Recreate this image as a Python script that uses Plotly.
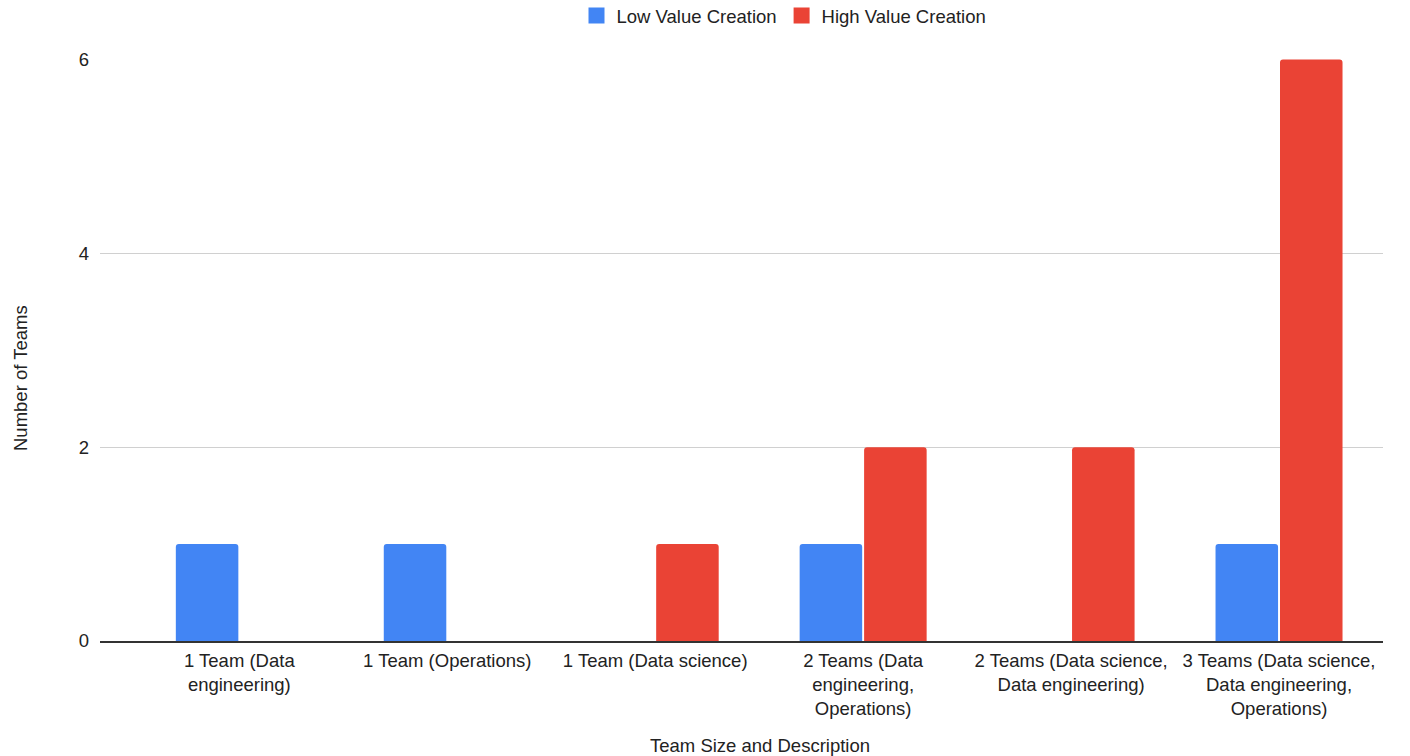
import plotly.graph_objects as go

# Team configurations (x categories) and counts per value-creation group
categories = [
    "1 Team (Data<br>engineering)",
    "1 Team (Operations)",
    "1 Team (Data science)",
    "2 Teams (Data<br>engineering,<br>Operations)",
    "2 Teams (Data science,<br>Data engineering)",
    "3 Teams (Data science,<br>Data engineering,<br>Operations)",
]
low_value = [1, 1, 0, 1, 0, 1]
high_value = [0, 0, 1, 2, 2, 6]
y_ticks = [0, 2, 4, 6]

BLUE = "#4285F4"
RED = "#EA4335"
TEXT = "#222222"
FONT = "Liberation Sans, Arial, sans-serif"
FS = 18.5

fig = go.Figure()
fig.add_trace(go.Bar(x=categories, y=low_value, name="Low Value Creation",
                     marker=dict(color=BLUE, line=dict(width=0)),
                     showlegend=False))
fig.add_trace(go.Bar(x=categories, y=high_value, name="High Value Creation",
                     marker=dict(color=RED, line=dict(width=0)),
                     showlegend=False))

# legend entries with large square swatches
for name, color in [("Low Value Creation", BLUE), ("High Value Creation", RED)]:
    fig.add_trace(go.Scatter(x=[None], y=[None], mode="markers", name=name,
                             marker=dict(symbol="square", size=18, color=color)))

fig.update_layout(
    width=1410, height=756,
    margin=dict(l=100, r=27, t=59, b=115, autoexpand=False),
    paper_bgcolor="white", plot_bgcolor="white",
    font=dict(family=FONT, size=FS, color=TEXT),
    barmode="group", bargap=0.38, bargroupgap=0.03, barcornerradius=3,
    legend=dict(orientation="h", xref="container", yref="container",
                xanchor="center", x=784 / 1410,
                yanchor="middle", y=1 - 16 / 756,
                font=dict(size=FS, color=TEXT),
                itemwidth=30, traceorder="normal", itemsizing="trace"),
    xaxis=dict(range=[-0.67, 5.5], showgrid=False, ticks="",
               showline=True, linecolor="#333333", linewidth=1.5,
               ticklabelstandoff=2,
               tickfont=dict(size=FS, color=TEXT)),
    yaxis=dict(range=[0, 6.005], tickvals=y_ticks, showgrid=True,
               gridcolor="#d0d0d0", gridwidth=1, zeroline=False,
               showline=False, ticks="", ticklabelstandoff=10,
               tickfont=dict(size=FS, color=TEXT)),
    annotations=[
        dict(text="Team Size and Description", xref="paper", yref="paper",
             x=(760 - 100) / 1283, y=-(745 - 641) / 582,
             xanchor="center", yanchor="middle", showarrow=False,
             font=dict(size=FS, color=TEXT)),
        dict(text="Number of Teams", xref="paper", yref="paper",
             x=-(100 - 20) / 1283, y=(641 - 378) / 582, textangle=-90,
             xanchor="center", yanchor="middle", showarrow=False,
             font=dict(size=FS, color=TEXT)),
    ],
)

fig.write_html("out.html")
